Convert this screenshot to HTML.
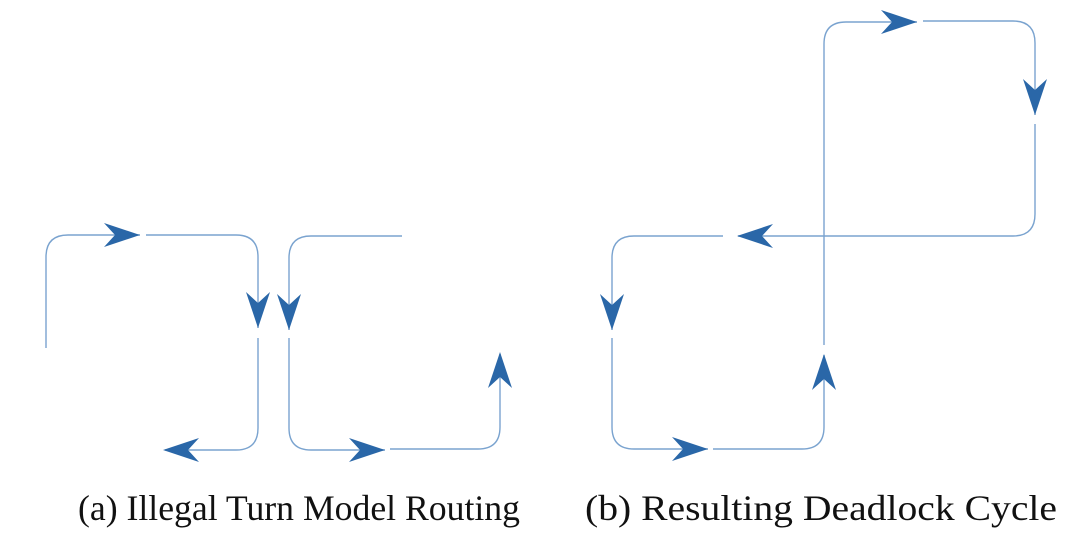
<!DOCTYPE html>
<html><head><meta charset="utf-8"><style>
html,body{margin:0;padding:0;background:#fff;}
svg{display:block;}
</style></head><body>
<svg width="1086" height="556" viewBox="0 0 1086 556" xmlns="http://www.w3.org/2000/svg">
<g fill="none" stroke="#7aa3cf" stroke-width="1.4">
<path d="M46 348 V257 Q46 235 68 235 H140"/>
<path d="M146 235 H236 Q258 235 258 257 V328"/>
<path d="M258 338 V428 Q258 450 236 450 H165"/>
<path d="M402 236 H311 Q289 236 289 258 V330"/>
<path d="M289 338 V428 Q289 450 311 450 H385"/>
<path d="M390 449 H478 Q500 449 500 427 V354"/>
<path d="M723 236 H634 Q612 236 612 258 V330"/>
<path d="M612 338 V427 Q612 449 634 449 H708"/>
<path d="M713 449 H802 Q824 449 824 427 V355"/>
<path d="M824 345 V44 Q824 22 846 22 H917"/>
<path d="M923 21 H1013 Q1035 21 1035 43 V115"/>
<path d="M1035 124 V214 Q1035 236 1013 236 H738"/>
</g>
<g fill="#2a67a8">
<path transform="translate(140,235)" d="M0 0 L-36 -12 L-25 0 L-36 12 Z"/>
<path transform="translate(258,328) rotate(90)" d="M0 0 L-36 -12 L-25 0 L-36 12 Z"/>
<path transform="translate(163,450) rotate(180)" d="M0 0 L-36 -12 L-25 0 L-36 12 Z"/>
<path transform="translate(289,330) rotate(90)" d="M0 0 L-36 -12 L-25 0 L-36 12 Z"/>
<path transform="translate(385,450)" d="M0 0 L-36 -12 L-25 0 L-36 12 Z"/>
<path transform="translate(500,352) rotate(-90)" d="M0 0 L-36 -12 L-25 0 L-36 12 Z"/>
<path transform="translate(612,330) rotate(90)" d="M0 0 L-36 -12 L-25 0 L-36 12 Z"/>
<path transform="translate(708,449)" d="M0 0 L-36 -12 L-25 0 L-36 12 Z"/>
<path transform="translate(824,354) rotate(-90)" d="M0 0 L-36 -12 L-25 0 L-36 12 Z"/>
<path transform="translate(917,22)" d="M0 0 L-36 -12 L-25 0 L-36 12 Z"/>
<path transform="translate(1035,115) rotate(90)" d="M0 0 L-36 -12 L-25 0 L-36 12 Z"/>
<path transform="translate(737,236) rotate(180)" d="M0 0 L-36 -12 L-25 0 L-36 12 Z"/>
</g>
<g font-family="'Liberation Serif', serif" font-size="36" fill="#111">
<text x="78" y="520" textLength="442" lengthAdjust="spacingAndGlyphs">(a) Illegal Turn Model Routing</text>
<text x="585" y="520" textLength="472" lengthAdjust="spacingAndGlyphs">(b) Resulting Deadlock Cycle</text>
</g>
</svg>
</body></html>
